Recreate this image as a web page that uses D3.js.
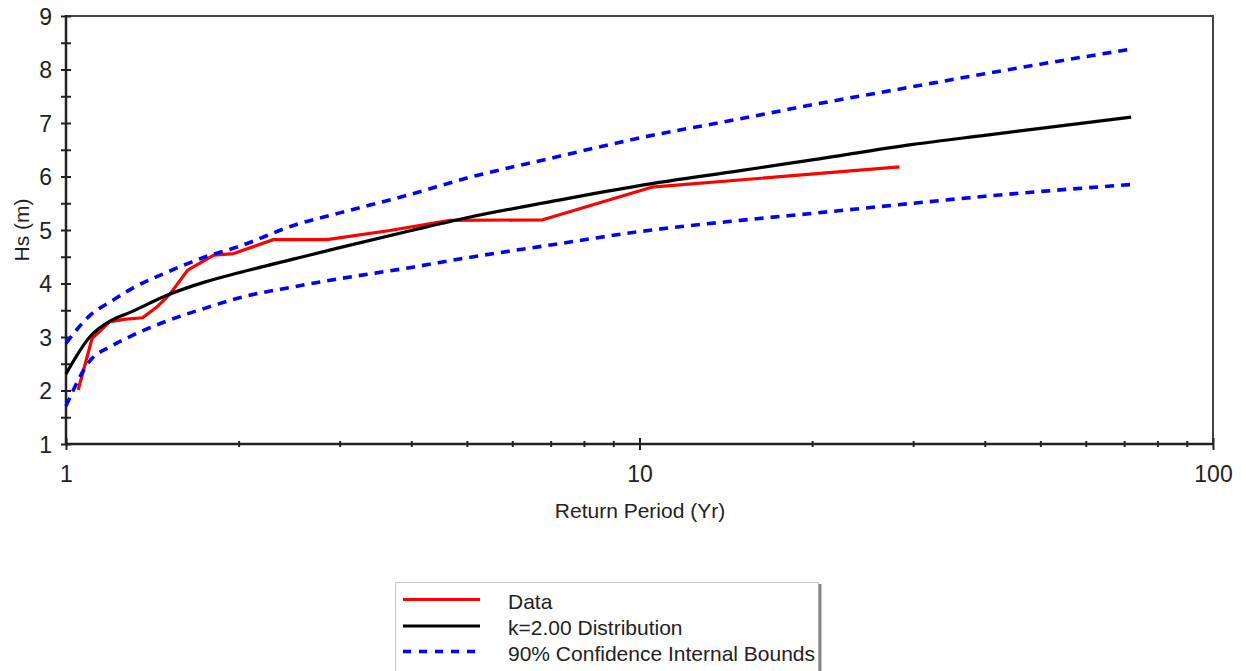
<!DOCTYPE html>
<html>
<head>
<meta charset="utf-8">
<script src="https://cdn.jsdelivr.net/npm/d3@7"></script>
<style>
  html, body { margin: 0; padding: 0; background: #fff; }
  svg { display: block; }
  text { font-family: "Liberation Sans", Arial, sans-serif; fill: #222; }
</style>
</head>
<body>
<svg id="chart" width="1246" height="671"></svg>
<script>
// ---- Data ----
// Return periods (Yr) at which the fitted curve and bounds are sampled
const returnPeriods   = [1, 1.1, 1.2, 1.3, 1.5, 1.75, 2, 2.5, 3, 4, 5, 7, 10, 15, 20, 30, 40, 50, 72];
// k=2.00 distribution Hs (m)
const distributionHs  = [2.31, 3.0, 3.31, 3.47, 3.78, 4.03, 4.20, 4.46, 4.67, 4.99, 5.23, 5.53, 5.83, 6.11, 6.31, 6.60, 6.77, 6.90, 7.11];
// 90% confidence bounds
const upperBoundHs    = [2.88, 3.40, 3.67, 3.90, 4.21, 4.50, 4.69, 5.09, 5.32, 5.67, 5.97, 6.34, 6.72, 7.08, 7.34, 7.68, 7.92, 8.10, 8.38];
const lowerBoundHs    = [1.71, 2.55, 2.83, 3.02, 3.30, 3.54, 3.73, 3.94, 4.09, 4.30, 4.48, 4.72, 4.97, 5.18, 5.31, 5.50, 5.63, 5.72, 5.85];
// Observed data
const dataReturnPeriods = [1.05, 1.11, 1.19, 1.26, 1.36, 1.44, 1.52, 1.63, 1.81, 1.96, 2.30, 2.85, 3.67, 4.67, 6.78, 10.5, 28.4];
const dataHs            = [2.01, 2.97, 3.28, 3.33, 3.36, 3.56, 3.81, 4.25, 4.53, 4.56, 4.82, 4.82, 4.99, 5.18, 5.19, 5.80, 6.18];
// Ticks
const yMajorTicks = [1, 2, 3, 4, 5, 6, 7, 8, 9];
const yMinorTicks = [1.5, 2.5, 3.5, 4.5, 5.5, 6.5, 7.5, 8.5];
const xMajorTicks = [1, 10, 100];
const xTickLabels = ["1", "10", "100"];
const xMinorTicks = [2, 3, 4, 5, 6, 7, 8, 9, 20, 30, 40, 50, 60, 70, 80, 90];
const legendLabels = ["Data", "k=2.00 Distribution", "90% Confidence Internal Bounds"];

// ---- Layout ----
const L = 66, R = 1213, T = 16, B = 444;
const svg = d3.select("#chart");
const x = d3.scaleLog().domain([1, 100]).range([L, R]);
const y = d3.scaleLinear().domain([1, 9]).range([B, T]);

// Frame (top / right)
svg.append("line").attr("x1", L).attr("x2", R + 1).attr("y1", T).attr("y2", T)
  .attr("stroke", "#444").attr("stroke-width", 2);
svg.append("line").attr("x1", R).attr("x2", R).attr("y1", T).attr("y2", B)
  .attr("stroke", "#444").attr("stroke-width", 2);

// Y axis
function styleCrossTicks(g, half) {
  g.select(".domain").remove();
  g.selectAll(".tick line").attr("stroke", "#222").attr("stroke-width", 2);
}
const yMajor = svg.append("g").attr("transform", `translate(${L},0)`)
  .call(d3.axisLeft(y).tickValues(yMajorTicks).tickFormat(d3.format("d")).tickSize(5).tickPadding(9));
yMajor.select(".domain").remove();
yMajor.selectAll(".tick line").attr("x1", 5).attr("x2", -5).attr("stroke", "#222").attr("stroke-width", 2);
yMajor.selectAll(".tick text").attr("font-size", 23).attr("font-family", "Liberation Sans, Arial, sans-serif").attr("fill", "#222").attr("dy", "0.36em");
const yMinor = svg.append("g").attr("transform", `translate(${L},0)`)
  .call(d3.axisLeft(y).tickValues(yMinorTicks).tickFormat("").tickSize(5));
yMinor.select(".domain").remove();
yMinor.selectAll(".tick line").attr("x1", 5).attr("x2", -5).attr("stroke", "#222").attr("stroke-width", 2);
svg.append("line").attr("x1", L).attr("x2", L).attr("y1", T - 1).attr("y2", B + 1)
  .attr("stroke", "#222").attr("stroke-width", 2.5);

// X axis
const xMajor = svg.append("g").attr("transform", `translate(0,${B})`)
  .call(d3.axisBottom(x).tickValues(xMajorTicks).tickFormat((d, i) => xTickLabels[i]).tickSize(6).tickPadding(16));
xMajor.select(".domain").remove();
xMajor.selectAll(".tick line").attr("y1", -6).attr("y2", 6).attr("stroke", "#222").attr("stroke-width", 2);
xMajor.selectAll(".tick text").attr("font-size", 23).attr("font-family", "Liberation Sans, Arial, sans-serif").attr("fill", "#222");
const xMinor = svg.append("g").attr("transform", `translate(0,${B})`)
  .call(d3.axisBottom(x).tickValues(xMinorTicks).tickFormat("").tickSize(3));
xMinor.select(".domain").remove();
xMinor.selectAll(".tick line").attr("y1", -3).attr("y2", 3).attr("stroke", "#222").attr("stroke-width", 2);
svg.append("line").attr("x1", L).attr("x2", R + 1).attr("y1", B).attr("y2", B)
  .attr("stroke", "#222").attr("stroke-width", 2.5);

// Axis titles
svg.append("text").attr("x", (L + R) / 2 + 0.5).attr("y", 518).attr("text-anchor", "middle")
  .attr("font-size", 21).text("Return Period (Yr)");
svg.append("text").attr("transform", `translate(29,${(T + B) / 2}) rotate(-90)`)
  .attr("text-anchor", "middle").attr("font-size", 21).text("Hs (m)");

// ---- Series ----
const smooth = d3.line().x(d => x(d[0])).y(d => y(d[1])).curve(d3.curveMonotoneX);
const straight = d3.line().x(d => x(d[0])).y(d => y(d[1]));

const dataPts = dataReturnPeriods.map((t, i) => [t, dataHs[i]]);
const distPts = returnPeriods.map((t, i) => [t, distributionHs[i]]);
const upPts = returnPeriods.map((t, i) => [t, upperBoundHs[i]]);
const loPts = returnPeriods.map((t, i) => [t, lowerBoundHs[i]]);

svg.append("path").attr("d", straight(dataPts)).attr("fill", "none")
  .attr("stroke", "#ff0000").attr("stroke-width", 3.2).attr("stroke-linejoin", "round");
svg.append("path").attr("d", smooth(distPts)).attr("fill", "none")
  .attr("stroke", "#000").attr("stroke-width", 3.2);
[upPts, loPts].forEach(p => {
  svg.append("path").attr("d", smooth(p)).attr("fill", "none")
    .attr("stroke", "#0000ff").attr("stroke-width", 3.6).attr("stroke-dasharray", "9,7");
});

// ---- Legend ----
const lg = svg.append("g");
lg.append("rect").attr("x", 395.5).attr("y", 582.5).attr("width", 423).attr("height", 100)
  .attr("fill", "#fff").attr("stroke", "#c8c8c8").attr("stroke-width", 1);
lg.append("line").attr("x1", 820).attr("x2", 820).attr("y1", 584).attr("y2", 671)
  .attr("stroke", "#888").attr("stroke-width", 3);
const legendStyles = [
  { color: "#ff0000", dash: null, w: 3.2, y: 599.5 },
  { color: "#000", dash: null, w: 3.2, y: 626 },
  { color: "#0000ff", dash: "8,8", w: 3.6, y: 651.5 }
];
legendLabels.forEach((lab, i) => {
  const s = legendStyles[i];
  lg.append("line").attr("x1", 403).attr("x2", 480).attr("y1", s.y).attr("y2", s.y)
    .attr("stroke", s.color).attr("stroke-width", s.w).attr("stroke-dasharray", s.dash);
  lg.append("text").attr("x", 508).attr("y", 609 + i * 26).attr("font-size", 21).text(lab);
});
</script>
</body>
</html>
